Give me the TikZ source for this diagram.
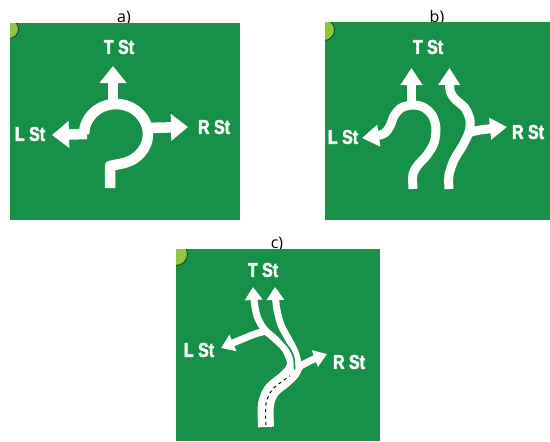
\documentclass[tikz,border=0pt]{standalone}
\usepackage{fontspec}
\setmainfont{Open Sans}
\newfontfamily\signfont[FakeStretch=0.8,FakeBold=2.4]{Liberation Sans Bold}
\usetikzlibrary{arrows.meta}
\definecolor{signgreen}{HTML}{17914A}
\definecolor{badge}{HTML}{8DC63F}
\definecolor{badgerim}{HTML}{1E3B14}
\begin{document}
\begin{tikzpicture}[x=1pt,y=-1pt,
  road/.style={draw=white, line join=round, line cap=butt},
  roadA/.style={road, line width=10.5pt},
  roadB/.style={road, line width=9pt},
  laneC/.style={road, line width=7pt},
  headA/.style={-{Triangle[width=26pt,length=17pt]}},
  headB/.style={-{Triangle[width=21pt,length=17pt]}},
  headC/.style={-{Triangle[width=17pt,length=13pt]}},
  street/.style={text=white, inner sep=0pt, font=\signfont\fontsize{20}{20}\selectfont},
  caption/.style={anchor=base, inner sep=0pt, font=\fontsize{16}{16}\selectfont},
  panel/.style={fill=signgreen},
  badgestyle/.style={fill=badge, draw=badgerim, line width=0.8pt}]
\useasboundingbox (0,0) rectangle (550,442);

% captions (drawn first so the panels overlap their descenders)
\node[caption] (capA) at (124,22.5) {a)};
\node[caption] (capB) at (437,22) {b)};
\node[caption] (capC) at (277,248) {c)};

% sign panels
\fill[panel] (10,23) rectangle (240,220);
\fill[panel] (325,22) rectangle (550,220);
\fill[panel] (176,249) rectangle (380,441);

% corner badges
\begin{scope}
  \clip (10,23) rectangle (240,220);
  \filldraw[badgestyle] (9,29) circle[radius=9.5];
\end{scope}
\begin{scope}
  \clip (325,22) rectangle (550,220);
  \filldraw[badgestyle] (324,30) circle[radius=10.5];
\end{scope}
\begin{scope}
  \clip (176,249) rectangle (380,441);
  \filldraw[badgestyle] (176,254) circle[radius=11.5];
\end{scope}

% ---------- a) roundabout ----------
\draw[roadA] (110,188) -- (110,166) -- (124.3,163) -- plot[smooth] coordinates {
  (124.3,163) (132,160) (138.6,155.2) (143.7,149) (146.9,141.8) (148,134)
  (146.9,126.2) (143.7,119) (138.6,112.8) (132,108) (124.3,105) (116,104)
  (107.7,105) (100,108) (93.4,112.8) (88.3,119) (85.1,126.2) (84,134)};
\draw[roadA, headA] (87,134) -- (52,135);
\draw[roadA, headA] (113,106) -- (113,66);
\draw[roadA, headA] (145,128) -- (188,127);
\node[street] (tA) at (119,47) {T St};
\node[street] (lA) at (30,134) {L St};
\node[street] (rA) at (214,127) {R St};

% ---------- b) two-lane roundabout ----------
\draw[roadB, headB] plot[smooth] coordinates {
  (413,189) (413,174) (418,165) (427,155) (434,143) (436,128) (432,115)
  (423,107) (412,105) (401,108) (394,116) (390,126) (383,134) (362,138)};
\draw[roadB, headB] (411.5,106) -- (411.5,68);
\draw[roadB, headB] plot[smooth] coordinates {
  (449,189) (449,175) (454,160) (463,145) (469,132) (470,120) (465,108)
  (455,99) (450,90) (449.5,68)};
\draw[roadB, headB] plot[smooth] coordinates {(468,133) (480,130) (507,127)};
\node[street] (tB) at (428,47) {T St};
\node[street] (lB) at (343,137) {L St};
\node[street] (rB) at (528,132) {R St};

% ---------- c) lane split ----------
\draw[white, line width=16pt, line cap=butt, line join=round] plot[smooth] coordinates {
  (266,427) (266,404) (272,390) (284,380) (292,372) (295,365)};
\draw[laneC, headC] plot[smooth] coordinates {
  (291,372) (290.5,362) (285,349) (274,338) (264,329) (257,316) (254,300) (253,287)};
\draw[laneC, headC] plot[smooth] coordinates {
  (299,370) (298.5,365) (295,352) (289,340) (281,325) (277,310) (275.5,298) (275,287)};
% thin separation between the two lanes
\draw[signgreen, line width=1.6pt, line cap=round] plot[smooth] coordinates {
  (294.6,369) (293.8,358) (290,349) (283,341) (277,334)};
\draw[laneC, headC] plot[smooth] coordinates {(266,331) (255,334) (240,340) (221,348)};
\draw[laneC, headC] plot[smooth] coordinates {(298,367) (306,363) (314,359) (327,354)};
\draw[black, line width=1pt, dash pattern=on 3pt off 3.5pt] plot[smooth] coordinates {
  (266,425) (266,404) (272,390) (284,380) (290,376)};
\node[street] (tC) at (263,270) {T St};
\node[street] (lC) at (199,350) {L St};
\node[street] (rC) at (349,362) {R St};
\end{tikzpicture}
\end{document}
